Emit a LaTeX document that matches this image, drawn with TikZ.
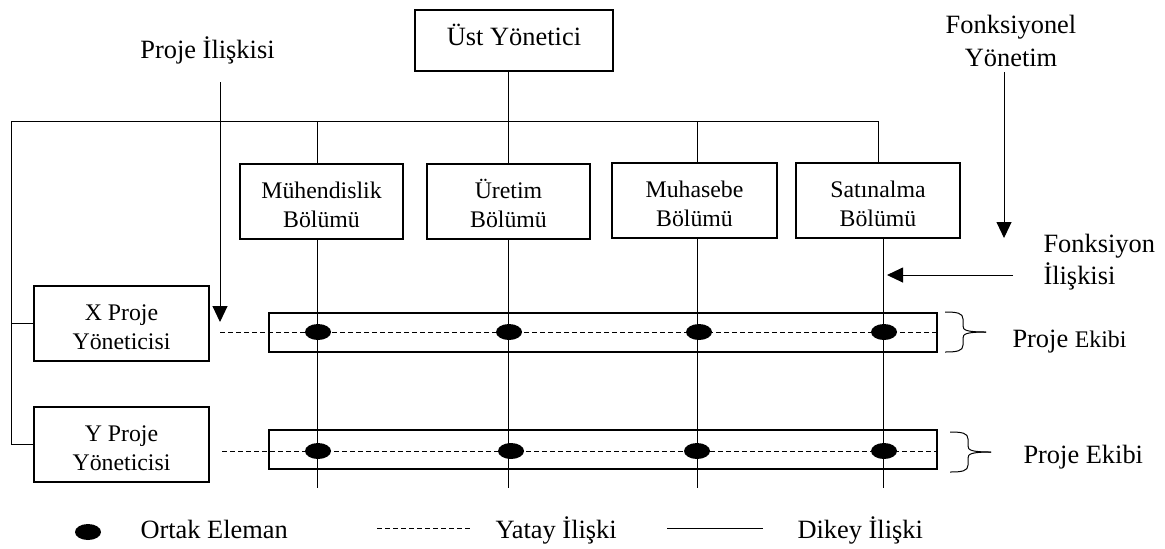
\documentclass[tikz,border=0pt]{standalone}
\usepackage{fontspec}
\setmainfont{Liberation Serif}
\usetikzlibrary{arrows.meta,shapes.geometric}
\newcommand\lblfont{\fontsize{13.2}{16.2}\selectfont}
\newcommand\boxfont{\fontsize{11.9}{14.7}\selectfont}
% fixed first-line height so every two-line box sets its text alike
\newcommand\firstline{\rule{0pt}{11.5pt}}

\begin{document}
\begin{tikzpicture}[x=0.5pt,y=-0.5pt,
  line width=0.5pt,
  box/.style={draw,line width=0.6pt,inner sep=0pt,align=center,font=\boxfont,minimum height=37.5pt},
  team/.style={draw,line width=0.75pt,inner sep=0pt,minimum width=334pt,minimum height=19.5pt},
  dot/.style={ellipse,fill=black,inner sep=0pt,minimum width=13pt,minimum height=8pt},
  lbl/.style={inner sep=0pt,font=\lblfont},
  rel/.style={dash pattern=on 2.5pt off 1.5pt},
  arr/.style={-{Triangle[width=7.5pt,length=8pt]}},
  rbrace/.pic={
    \draw (0,-20) .. controls (12,-20) and (18,-19) .. (18,-13) -- (18,-6)
          .. controls (18,-2) and (21,0) .. (41,0);
    \draw (0,20) .. controls (12,20) and (18,19) .. (18,13) -- (18,6)
          .. controls (18,2) and (21,0) .. (41,0);
  }
]
\useasboundingbox (0,0) rectangle (1165,548);

% top manager, departments and project managers
\node[box,minimum width=99pt,minimum height=30.5pt,font=\lblfont,
      text height=9pt,text depth=4.5pt] (ust) at (514,40.5) {Üst Yönetici};
\node[box,minimum width=81.5pt] (muh) at (321.5,201.5) {\firstline Mühendislik\\Bölümü};
\node[box,minimum width=81.5pt] (ure) at (508.5,201.5) {\firstline Üretim\\Bölümü};
\node[box,minimum width=82.5pt] (mhs) at (694.5,200.5) {\firstline Muhasebe\\Bölümü};
\node[box,minimum width=82pt] (sat) at (878,200.5) {\firstline Satınalma\\Bölümü};
\node[box,minimum width=87.5pt] (xp) at (121.5,323.5) {\firstline X Proje\\Yöneticisi};
\node[box,minimum width=87.5pt] (yp) at (121.5,444.5) {\firstline Y Proje\\Yöneticisi};

% project team bands
\node[team] (t1) at (603,332.5) {};
\node[team] (t2) at (603,449.5) {};

% reference points for the vertical hierarchy
\coordinate (tl) at (11,121);
\coordinate (b1) at (317,488);
\coordinate (b2) at (508,488);
\coordinate (b3) at (697,488);
\coordinate (b4) at (883,488);

% vertical (functional) lines
\draw (ust.south -| ure.north) -- (ure.north);
\draw (xp.west) -- (xp.west -| tl) -- (tl) -- (tl -| sat.north) -- (sat.north);
\draw (yp.west) -| (tl);
\draw (b1 |- tl) -- (b1 |- muh.north);
\draw (b3 |- tl) -- (b3 |- mhs.north);
\draw (b1 |- muh.south) -- (b1);
\draw (b2 |- ure.south) -- (b2);
\draw (b3 |- mhs.south) -- (b3);
\draw (b4 |- sat.south) -- (b4);

% horizontal (project) lines
\coordinate (d1) at (220,332.5);
\coordinate (d2) at (222,451);
\draw[rel] (d1) -- (t1.east);
\draw[rel] (d2) -- (d2 -| t2.east);

% common members
\node[dot] (a1) at (318,332) {};
\node[dot] (a2) at (509,332) {};
\node[dot] (a3) at (699,332) {};
\node[dot] (a4) at (884,332) {};
\node[dot] (c1) at (318,451) {};
\node[dot] (c2) at (511,451) {};
\node[dot] (c3) at (697,451) {};
\node[dot] (c4) at (884,451) {};

% annotations
\node[lbl,anchor=base] (pi) at (207.5,58) {Proje İlişkisi};
\coordinate (pa) at (220,82);
\coordinate (pb) at (220,322);
\draw[arr] (pa) -- (pb);

\node[lbl,align=center,font=\fontsize{13.2}{16.3}\selectfont] (fy) at (1011,41) {Fonksiyonel\\Yönetim};
\coordinate (fa) at (1004,72);
\coordinate (fb) at (1004,238);
\draw[arr] (fa) -- (fb);

\node[lbl,align=left,anchor=west,font=\fontsize{13.2}{15.8}\selectfont] (fi) at (1043,262) {Fonksiyon\\İlişkisi};
\coordinate (ia) at (1013,275);
\coordinate (ib) at (887,275);
\draw[arr] (ia) -- (ib);

\pic at (945,332) {rbrace};
\pic at (950,452) {rbrace};
\node[lbl,anchor=base west] (pe1) at (1012,347) {Proje {\boxfont Ekibi}};
\node[lbl,anchor=base west] (pe2) at (1023,463) {Proje Ekibi};

% legend
\node[dot] (ld) at (88,532) {};
\node[lbl,anchor=base west] (l1) at (140,538) {Ortak Eleman};
\coordinate (la) at (377,528);
\coordinate (lb) at (472,528);
\draw[rel] (la) -- (lb);
\node[lbl,anchor=base west] (l2) at (495,538) {Yatay İlişki};
\coordinate (lc) at (667,528);
\coordinate (le) at (763,528);
\draw (lc) -- (le);
\node[lbl,anchor=base west] (l3) at (797,538) {Dikey İlişki};
\end{tikzpicture}
\end{document}
